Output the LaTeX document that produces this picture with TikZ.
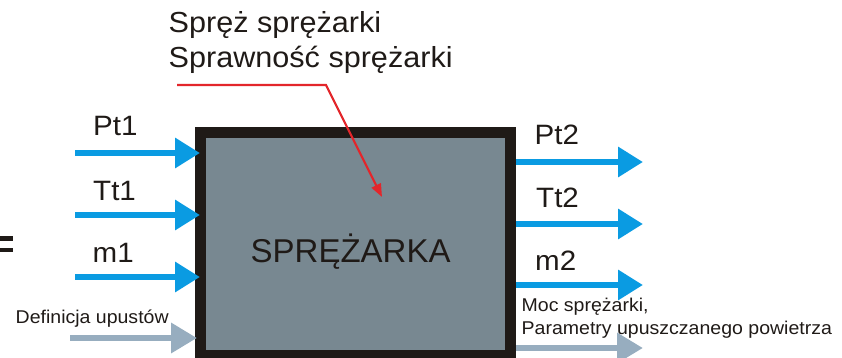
\documentclass[tikz,border=0pt]{standalone}
\usepackage{fontspec}
\setmainfont{Liberation Sans}
\newfontfamily\widesans[FakeStretch=1.055]{Liberation Sans}
\usetikzlibrary{arrows.meta}

\definecolor{flowblue}{HTML}{0A9BE2}
\definecolor{bleedgrey}{HTML}{97ADBF}
\definecolor{boxgrey}{HTML}{788891}
\definecolor{ink}{HTML}{1F1A17}
\definecolor{signalred}{HTML}{E3262B}

\begin{document}
\begin{tikzpicture}[x=1pt,y=-1pt,
  flow/.style={draw=flowblue, line width=6.5pt, -{Triangle[length=25pt,width=29pt]}},
  bleed/.style={draw=bleedgrey, line width=6.5pt, -{Triangle[length=26pt,width=29pt]}},
  setpoint/.style={draw=signalred, line width=2.2pt, -{Triangle[length=13pt,width=10pt]}},
  biglabel/.style={font=\widesans\fontsize{28}{34}\selectfont, text=ink, anchor=base west, inner sep=0pt},
  toplabel/.style={font=\widesans\fontsize{29}{35}\selectfont, text=ink, anchor=base west, inner sep=0pt},
  smalllabel/.style={font=\widesans\fontsize{18.5}{23}\selectfont, text=ink, anchor=base west, inner sep=0pt},
  unitbox/.style={draw=ink, fill=boxgrey, line width=11pt, minimum width=310pt, minimum height=223pt, inner sep=0pt}]

\useasboundingbox (0,0) rectangle (842,358);
\clip (0,0) rectangle (842,358);

% equals sign at the left margin
\fill[ink] (0,236) rectangle (13,240.5);
\fill[ink] (0,247.5) rectangle (13,252);

% stream coordinates
\coordinate (pt1s) at (75,153);
\coordinate (tt1s) at (75,215);
\coordinate (m1s)  at (75,277);
\coordinate (bl1s) at (70,338);
\coordinate (pt2e) at (643,162);
\coordinate (tt2e) at (643,224);
\coordinate (m2e)  at (643,285);
\coordinate (bl2e) at (643,348);

% outlet streams, drawn first so the box border covers their roots
\coordinate (boxE) at (516,244);
\draw[flow]  (pt2e -| boxE) -- (pt2e);
\draw[flow]  (tt2e -| boxE) -- (tt2e);
\draw[flow]  (m2e -| boxE)  -- (m2e);
\draw[bleed] (bl2e -| boxE) -- (bl2e);

% compressor block
\node[unitbox] (box) at (355.5,244) {};
\node[anchor=base west, inner sep=0pt, text=ink, font=\fontsize{33}{40}\selectfont] (boxname) at (250.5,262) {SPRĘŻARKA};

% inlet streams
\draw[flow]  (pt1s) -- ([xshift=5pt]pt1s -| box.west);
\draw[flow]  (tt1s) -- ([xshift=5pt]tt1s -| box.west);
\draw[flow]  (m1s)  -- ([xshift=5pt]m1s -| box.west);
\draw[bleed] (bl1s) -- ([xshift=2pt]bl1s -| box.west);

% stream labels
\node[biglabel] (lpt1) at (93,136) {Pt1};
\node[biglabel] (ltt1) at (93,200) {Tt1};
\node[biglabel] (lm1)  at (92.5,262) {m1};
\node[biglabel] (lpt2) at (534.5,145) {Pt2};
\node[biglabel] (ltt2) at (536,207) {Tt2};
\node[biglabel] (lm2)  at (535,270) {m2};
\node[smalllabel] (lbl1) at (15.5,323) {Definicja upustów};
\node[smalllabel] (lout1) at (521.5,311) {Moc sprężarki,};
\node[smalllabel] (lout2) at (521.5,334) {Parametry upuszczanego powietrza};

% design parameters fed into the block
\node[toplabel] (par1) at (168.5,33) {Spręż sprężarki};
\node[toplabel] (par2) at (168.5,68) {Sprawność sprężarki};
\coordinate (redstart) at (177,85);
\coordinate (redbend) at (326,85);
\coordinate (redtip) at (382,197);
\draw[setpoint] (redstart) -- (redbend) -- (redtip);

\end{tikzpicture}
\end{document}
